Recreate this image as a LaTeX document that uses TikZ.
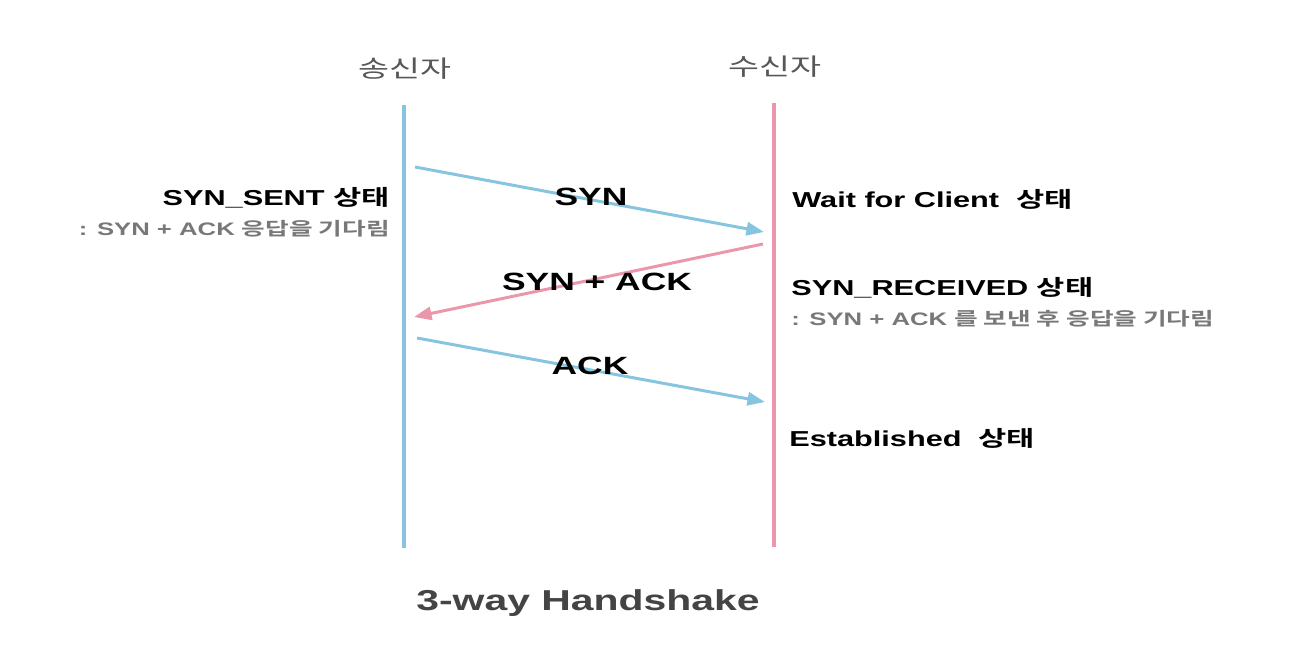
\documentclass[tikz,border=0pt]{standalone}
\usepackage{fontspec}
\setmainfont{Liberation Sans}[FakeStretch=1.42]
\newfontfamily\kr{Noto Sans CJK KR}[FakeStretch=1.42,BoldFont={Noto Sans CJK KR Bold}]
\usepackage{tikz}
\usetikzlibrary{arrows.meta}
\usepackage{xcolor}
\definecolor{sendblue}{RGB}{134,196,224}
\definecolor{recvpink}{RGB}{236,150,172}
\definecolor{subgray}{RGB}{120,120,120}
\definecolor{titlegray}{RGB}{68,68,68}

\begin{document}
\begin{tikzpicture}[x=0.02cm,y=-0.02cm,
    lifeline/.style={line width=2.3pt},
    msg/.style={line width=1.7pt,-{Triangle[length=10pt,width=7.5pt]}},
    party/.style={text=titlegray!90,font=\kr\fontsize{13.5}{16}\selectfont},
    msglabel/.style={font=\bfseries\fontsize{14.2}{16}\selectfont},
    state/.style={font=\bfseries\fontsize{12.3}{14}\selectfont,inner sep=0pt},
    note/.style={text=subgray,font=\bfseries\fontsize{10.3}{12}\selectfont,inner sep=0pt}]
      %\draw[help lines] (0,0) grid (1316,658); % Only for Development
      \useasboundingbox (0,0) rectangle (1316,658);

      % lifelines
      \node[party] (sender) at (405,69) {송신자};
      \node[party] (receiver) at (775,67) {수신자};
      \coordinate (stop) at (404,105);
      \coordinate (sbot) at (404,548);
      \coordinate (rtop) at (774,103);
      \coordinate (rbot) at (774,547);
      \draw[lifeline,draw=sendblue] (stop) -- (sbot);
      \draw[lifeline,draw=recvpink] (rtop) -- (rbot);

      % messages
      \coordinate (syn1) at (415,167);
      \coordinate (syn2) at (764,232);
      \coordinate (synack1) at (763,244);
      \coordinate (synack2) at (414,317);
      \coordinate (ack1) at (417,338);
      \coordinate (ack2) at (765,402);
      \draw[msg,draw=sendblue] (syn1) -- (syn2);
      \draw[msg,draw=recvpink] (synack1) -- (synack2);
      \draw[msg,draw=sendblue] (ack1) -- (ack2);
      \node[msglabel] (synlabel) at (591,197) {SYN};
      \node[msglabel] (synacklabel) at (597,282) {SYN + ACK};
      \node[msglabel] (acklabel) at (590,366) {ACK};

      % sender states
      \node[state,anchor=east] (synsent) at (390,198) {SYN\_SENT {\kr\bfseries 상태}};
      \node[note,anchor=east] (synsentnote) at (390,229) {: SYN + ACK {\kr\bfseries 응답을 기다림}};

      % receiver states
      \node[state,anchor=west] (wait) at (792,199) {Wait for Client\ \ {\kr\bfseries 상태}};
      \node[state,anchor=west] (synrecv) at (791,288) {SYN\_RECEIVED {\kr\bfseries 상태}};
      \node[note,anchor=west] (synrecvnote) at (791,319) {: SYN + ACK {\kr\bfseries 를 보낸 후 응답을 기다림}};
      \node[state,anchor=west] (established) at (789,438) {Established\ \ {\kr\bfseries 상태}};

      \node[text=titlegray,font=\bfseries\fontsize{16.4}{20}\selectfont] (title) at (588,603) {3-way Handshake};
    \end{tikzpicture}
\end{document}
